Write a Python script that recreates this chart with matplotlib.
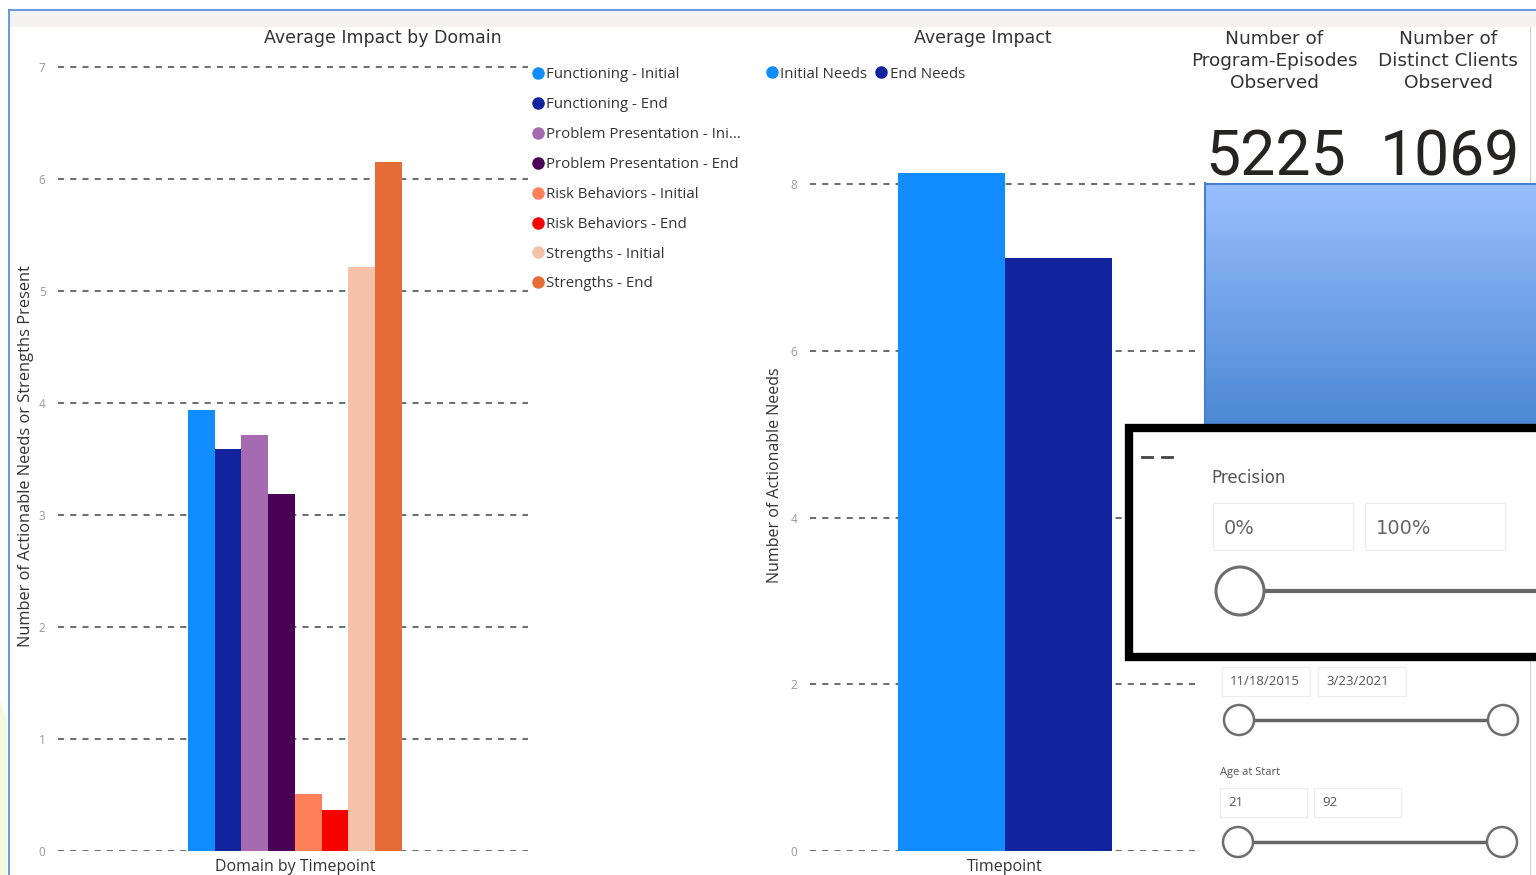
import matplotlib
matplotlib.use("Agg")
import matplotlib.pyplot as plt
import numpy as np
from matplotlib.lines import Line2D
from matplotlib.patches import Rectangle, Circle

# data
domain_labels = ["Functioning - Initial", "Functioning - End",
                 "Problem Presentation - Ini...", "Problem Presentation - End",
                 "Risk Behaviors - Initial", "Risk Behaviors - End",
                 "Strengths - Initial", "Strengths - End"]
domain_values = [3.94, 3.59, 3.71, 3.19, 0.51, 0.37, 5.21, 6.15]
domain_colors = ["#118DFF", "#12239E", "#A66AB0", "#4A0055",
                 "#FF7F5A", "#F80000", "#F4C2A8", "#E66C37"]

impact_labels = ["Initial Needs", "End Needs"]
impact_values = [8.13, 7.11]
impact_colors = ["#118DFF", "#12239E"]

kpi_titles = ["Number of\nProgram-Episodes\nObserved", "Number of\nDistinct Clients\nObserved"]
kpi_values = ["5225", "1069"]

W, H = 1536, 875
fig = plt.figure(figsize=(W / 100, H / 100), dpi=100)
fig.patch.set_facecolor("white")

def px_axes(x0, y0, x1, y1, **kw):
    # y measured from top of image in pixels
    return fig.add_axes([x0 / W, 1 - y1 / H, (x1 - x0) / W, (y1 - y0) / H], **kw)

txt = "#333333"
tickc = "#999999"
plt.rcParams['font.family'] = ['Open Sans', 'DejaVu Sans']

# background frame
bg = px_axes(0, 0, W, H, zorder=0)
bg.set_xlim(0, W)
bg.set_ylim(H, 0)
bg.axis("off")
bg.add_patch(Rectangle((9, 10), W, 17, color="#F3F2F1", lw=0))
bg.plot([9, W], [10, 10], color="#4F87D8", lw=1.2)
bg.plot([9, 9], [10, H], color="#4F87D8", lw=1.2)
bg.plot([1530, 1530], [27, H], color="#D0D0D0", lw=0.8)
bg.fill([0, 7, 7, 0], [700, 720, H, H], color="#F4F8DC", lw=0)

def style_axes(ax):
    for s in ax.spines.values():
        s.set_visible(False)
    ax.set_xticks([])
    ax.tick_params(axis="y", length=0, labelsize=8.5, labelcolor=tickc, pad=9)
    ax.yaxis.grid(True, color="#444444", linestyle=(0, (4, 4)), linewidth=1.1)
    ax.set_axisbelow(True)
    ax.set_facecolor("none")

# left chart: Average Impact by Domain
ax1 = px_axes(58, 61.4, 528, 851, zorder=1)
n = len(domain_values)
w1 = 0.1138
xs = (np.arange(n) - (n - 1) / 2) * w1 + 0.008
ax1.bar(xs, domain_values, width=w1, color=domain_colors, zorder=3)
ax1.set_xlim(-1, 1)
ax1.set_ylim(0, 7.05)
ax1.set_yticks(range(0, 8))
style_axes(ax1)
ax1.set_ylabel("Number of Actionable Needs or Strengths Present", fontsize=11.8, color=txt)
ax1.yaxis.set_label_coords(-0.05, 0.5)
handles = [Line2D([], [], marker="o", ls="", color=c, markersize=8) for c in domain_colors]
ax1.legend(handles, domain_labels, loc="upper left", bbox_to_anchor=(521 / W, 1 - 60 / H),
           bbox_transform=fig.transFigure, frameon=False, fontsize=10.8,
           handletextpad=0.0, handlelength=1.2, labelspacing=0.99, borderpad=0,
           labelcolor=txt)
fig.text(383 / W, 1 - 38 / H, "Average Impact by Domain", ha="center", va="center",
         fontsize=12.5, color=txt, family=["DejaVu Sans"])
fig.text(295 / W, 1 - 867 / H, "Domain by Timepoint", ha="center", va="center",
         fontsize=11.5, color=txt)

# right chart: Average Impact
ax2 = px_axes(810, 134, 1197, 851, zorder=1)
w2 = 0.553
xs2 = (np.arange(len(impact_values)) - 0.5) * w2 + 0.008
ax2.bar(xs2, impact_values, width=w2, color=impact_colors, zorder=3)
ax2.set_xlim(-1, 1)
ax2.set_ylim(0, 8.6)
ax2.set_yticks([0, 2, 4, 6, 8])
style_axes(ax2)
ax2.set_ylabel("Number of Actionable Needs", fontsize=11.5, color=txt)
ax2.yaxis.set_label_coords(-0.07, 0.524)
h2 = [Line2D([], [], marker="o", ls="", color=c, markersize=8) for c in impact_colors]
ax2.legend(h2, impact_labels, loc="center left", bbox_to_anchor=(755 / W, 1 - 74 / H),
           bbox_transform=fig.transFigure, frameon=False, fontsize=10.8, ncol=2,
           handletextpad=0.0, handlelength=1.2, columnspacing=0.3, borderpad=0,
           labelcolor=txt)
fig.text(983 / W, 1 - 38 / H, "Average Impact", ha="center", va="center",
         fontsize=12.5, color=txt, family=["DejaVu Sans"])
fig.text(1005 / W, 1 - 867 / H, "Timepoint", ha="center", va="center",
         fontsize=11.5, color=txt)

# overlay: KPI cards and slicers
ov = px_axes(0, 0, W, H, zorder=10)
ov.set_xlim(0, W)
ov.set_ylim(H, 0)
ov.axis("off")
ov.patch.set_alpha(0)

for cx, t, v in zip([1274, 1448], kpi_titles, kpi_values):
    ov.text(cx, 61, t, ha="center", va="center", fontsize=13.3, color=txt,
            linespacing=1.32, family=["DejaVu Sans"])
    ov.text(cx + 2, 158, v, ha="center", va="center", fontsize=45, color="#252423",
            family=["Roboto", "DejaVu Sans"])

grad = np.linspace(0, 1, 256)
top = np.array([0.60, 0.75, 0.99])
bot = np.array([0.29, 0.53, 0.83])
img = (top + (bot - top) * grad[:, None]).reshape(256, 1, 3)
ov.imshow(img, extent=(1205, W, 428, 183), aspect="auto", zorder=1)
ov.plot([1205, W], [183.5, 183.5], color="#4A7FD0", lw=1.5, zorder=2)
ov.plot([1205, 1205], [183, 428], color="#4A7FD0", lw=1.5, zorder=2)

# black-bordered precision slicer
ov.add_patch(Rectangle((1129, 428), 420, 229, facecolor="white", edgecolor="black",
                       lw=6, zorder=3))
ov.plot([1142, 1152], [457, 457], color="#444444", lw=2, zorder=4)
ov.plot([1162, 1172], [457, 457], color="#444444", lw=2, zorder=4)
ov.text(1211, 478, "Precision", fontsize=12, color="#555555", va="center", zorder=4,
        family=["DejaVu Sans"])
for x0, lab in [(1213, "0%"), (1365, "100%")]:
    ov.add_patch(Rectangle((x0, 503), 140, 47, facecolor="white", edgecolor="#EEEEEE",
                           lw=1, zorder=4))
    ov.text(x0 + 11, 528, lab, fontsize=14, color="#666666", va="center", zorder=5,
            family=["DejaVu Sans"])
ov.plot([1264, W], [591, 591], color="#666666", lw=3, zorder=4)
ov.add_patch(Circle((1240, 591), 24, facecolor="white", edgecolor="#6E6E6E", lw=2.2, zorder=5))

# date slicer
for x0, lab in [(1222, "11/18/2015"), (1318, "3/23/2021")]:
    ov.add_patch(Rectangle((x0, 667), 88, 29, facecolor="white", edgecolor="#EEEEEE",
                           lw=1, zorder=4))
    ov.text(x0 + 8, 681.5, lab, fontsize=9.5, color="#555555", va="center", zorder=5)
ov.plot([1254, 1488], [720, 720], color="#666666", lw=2.5, zorder=4)
for cx in [1239, 1503]:
    ov.add_patch(Circle((cx, 720), 15, facecolor="white", edgecolor="#6E6E6E", lw=1.8, zorder=5))

# age slicer
ov.text(1220, 773, "Age at Start", fontsize=8, color="#555555", va="center", zorder=5)
for x0, lab in [(1220, "21"), (1314, "92")]:
    ov.add_patch(Rectangle((x0, 788), 87, 29, facecolor="white", edgecolor="#EEEEEE",
                           lw=1, zorder=4))
    ov.text(x0 + 8, 803, lab, fontsize=9.5, color="#555555", va="center", zorder=5)
ov.plot([1253, 1487], [842, 842], color="#666666", lw=2.5, zorder=4)
for cx in [1238, 1502]:
    ov.add_patch(Circle((cx, 842), 15, facecolor="white", edgecolor="#6E6E6E", lw=1.8, zorder=5))

fig.savefig("out.png", dpi=100)
